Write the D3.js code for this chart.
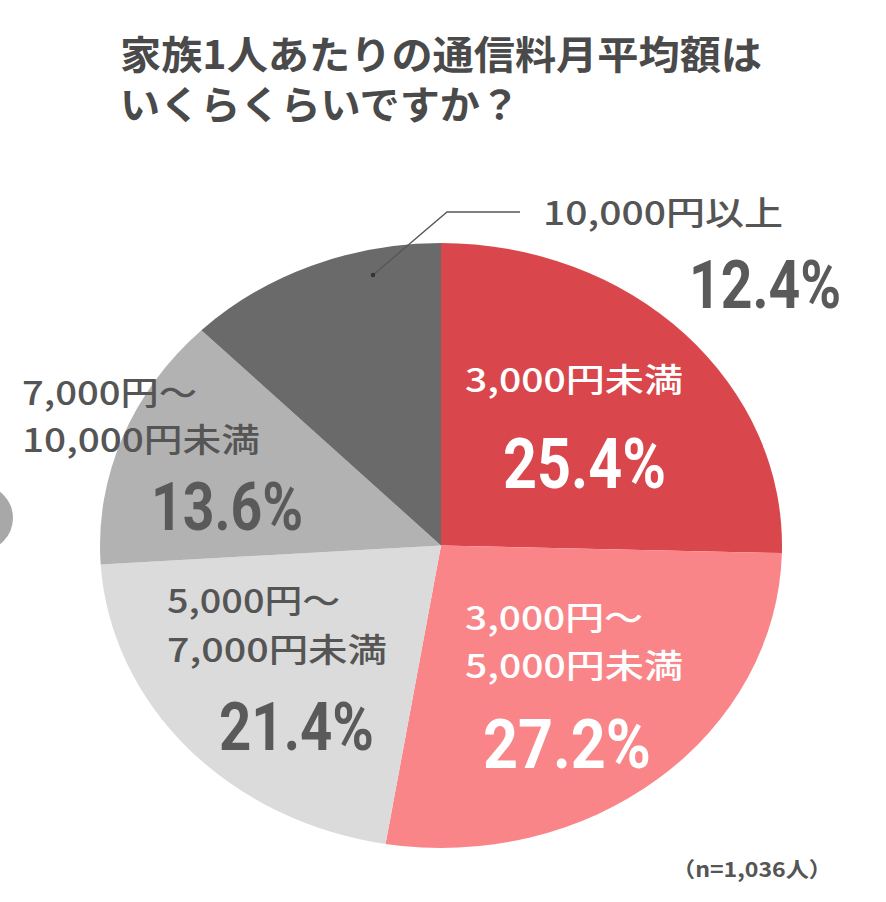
<!DOCTYPE html>
<html><head><meta charset="utf-8">
<script src="https://cdn.jsdelivr.net/npm/d3@7"></script>
<style>html,body{margin:0;padding:0;background:#fff;}svg{display:block;}</style>
</head><body>
<script>
// ---- data ----
const titleLines = ["家族1人あたりの通信料月平均額は", "いくらくらいですか？"];
const categories = ["3,000円未満", "3,000円～5,000円未満", "5,000円～7,000円未満", "7,000円～10,000円未満", "10,000円以上"];
const labelLines = [["3,000円未満"], ["3,000円～", "5,000円未満"], ["5,000円～", "7,000円未満"], ["7,000円～", "10,000円未満"], ["10,000円以上"]];
const values = [25.4, 27.2, 21.4, 13.6, 12.4];
const colors = ["#d9474d", "#f98589", "#dbdbdb", "#b2b2b2", "#6a6a6a"];
const note = "（n=1,036人）";

const W = 886, H = 902;
const svg = d3.select("body").append("svg").attr("width", W).attr("height", H);

const jp = "'Noto Sans CJK JP','Noto Sans',sans-serif";
const num = "Roboto,'DejaVu Sans',sans-serif";

// stray grey circle at left edge
svg.append("circle").attr("cx", -20).attr("cy", 518).attr("r", 33).attr("fill", "#a8a8a8");

// title
svg.selectAll("text.title").data(titleLines).enter().append("text")
  .attr("class", "title")
  .attr("x", 120).attr("y", (d, i) => 69 + i * 50)
  .attr("font-family", jp).attr("font-weight", 700).attr("font-size", 39)
  .attr("fill", "#4a4a4a")
  .attr("textLength", (d, i) => i === 0 ? 642 : 400)
  .attr("lengthAdjust", "spacingAndGlyphs")
  .text(d => d);

// pie (elliptical)
const cx = 441, cy = 545.5, rx = 341, ry = 302.5;
const pie = d3.pie().sort(null).value(d => d)(values);
const arc = d3.arc().innerRadius(0).outerRadius(ry);
const g = svg.append("g").attr("transform", `translate(${cx},${cy}) scale(${rx / ry},1)`);
g.selectAll("path").data(pie).enter().append("path")
  .attr("d", arc).attr("fill", (d, i) => colors[i]);

// leader line for 10,000円以上
svg.append("path").attr("d", "M373,275 L447,212 L520,212")
  .attr("fill", "none").attr("stroke", "#555").attr("stroke-width", 1.3);
svg.append("circle").attr("cx", 373).attr("cy", 275).attr("r", 2.2).attr("fill", "#333");

// category label layout
const labelPos = [
  {x: 465, y: 392, gap: 0, w: [218], fill: "#ffffff"},
  {x: 465, y: 630, gap: 48, w: [178, 218], fill: "#ffffff"},
  {x: 167, y: 613, gap: 49, w: [173, 220], fill: "#555555"},
  {x: 22, y: 405, gap: 47, w: [175, 238], fill: "#555555"},
  {x: 543, y: 225, gap: 0, w: [240], fill: "#555555"}
];
labelLines.forEach((lines, i) => {
  const p = labelPos[i];
  lines.forEach((t, j) => {
    svg.append("text").attr("x", p.x).attr("y", p.y + j * p.gap)
      .attr("font-family", jp).attr("font-weight", 500).attr("font-size", 33)
      .attr("fill", p.fill)
      .attr("textLength", p.w[j]).attr("lengthAdjust", "spacingAndGlyphs")
      .text(t);
  });
});

// percentages
const pctPos = [
  {x: 503, y: 488, w: 163, fill: "#ffffff", fs: 71},
  {x: 483, y: 768, w: 168, fill: "#ffffff", fs: 68},
  {x: 219, y: 750, w: 155, fill: "#5a5a5a", fs: 66},
  {x: 151, y: 530, w: 152, fill: "#5a5a5a", fs: 67},
  {x: 689, y: 308, w: 152, fill: "#5a5a5a", fs: 67}
];
values.forEach((v, i) => {
  const p = pctPos[i];
  svg.append("text").attr("x", p.x).attr("y", p.y)
    .attr("font-family", num).attr("font-weight", 700).attr("font-size", p.fs)
    .attr("fill", p.fill)
    .attr("textLength", p.w).attr("lengthAdjust", "spacingAndGlyphs")
    .text(v.toFixed(1) + "%");
});

// note
svg.append("text").attr("x", 672).attr("y", 877)
  .attr("font-family", jp).attr("font-weight", 700).attr("font-size", 21)
  .attr("fill", "#555").attr("textLength", 160).attr("lengthAdjust", "spacingAndGlyphs")
  .text(note);
</script>
</body></html>
